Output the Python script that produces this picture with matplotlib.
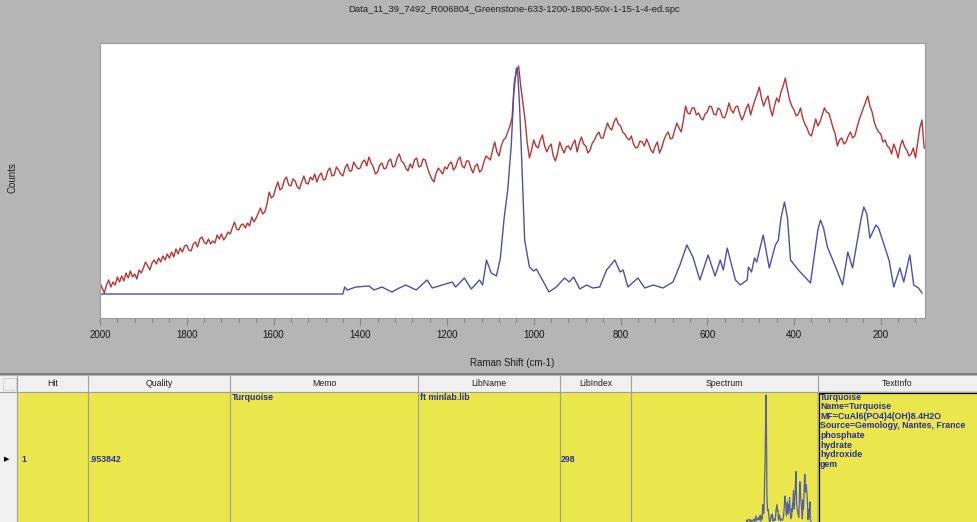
import matplotlib
matplotlib.use('Agg')
import matplotlib.pyplot as plt
from matplotlib.patches import Rectangle
from matplotlib.ticker import MultipleLocator
import numpy as np

plt.rcParams['font.family'] = ['Liberation Sans', 'DejaVu Sans']

# measured spectrum (red), one value every 5 cm-1 from 2000 down to 100
red_shift = np.arange(2000, 99, -5)
red_counts = [
    35, 30, 25, 33, 38, 31, 36, 33, 41, 36,
    42, 37, 45, 40, 47, 41, 44, 39, 48, 45,
    50, 56, 52, 48, 55, 58, 54, 60, 56, 62,
    58, 64, 60, 66, 61, 69, 64, 70, 66, 72,
    73, 68, 67, 74, 76, 71, 79, 81, 76, 74,
    79, 74, 77, 75, 83, 79, 84, 78, 81, 86,
    84, 90, 96, 89, 88, 93, 94, 90, 95, 92,
    101, 96, 100, 105, 110, 104, 106, 114, 126, 120,
    122, 130, 136, 128, 130, 138, 141, 133, 132, 139,
    137, 131, 129, 136, 142, 135, 134, 141, 138, 144,
    136, 142, 145, 138, 139, 147, 150, 142, 143, 151,
    148, 144, 142, 150, 154, 147, 147, 156, 152, 149,
    150, 156, 158, 152, 161, 155, 151, 144, 146, 153,
    155, 149, 150, 157, 159, 151, 152, 160, 164, 157,
    155, 150, 147, 154, 150, 158, 160, 151, 152, 159,
    158, 150, 144, 139, 136, 145, 150, 147, 144, 151,
    149, 154, 156, 148, 151, 158, 161, 152, 150, 157,
    157, 150, 145, 152, 154, 146, 148, 156, 162, 160,
    158, 168, 176, 166, 162, 172, 178, 180, 186, 192,
    200, 235, 247, 252, 232, 215, 198, 175, 160, 168,
    178, 172, 170, 178, 183, 172, 166, 171, 174, 162,
    157, 165, 176, 170, 165, 171, 172, 168, 174, 178,
    166, 175, 181, 174, 172, 165, 168, 175, 178, 183,
    186, 180, 180, 188, 195, 190, 188, 196, 200, 194,
    192, 186, 184, 180, 178, 182, 174, 170, 171, 177,
    176, 172, 179, 174, 168, 165, 172, 176, 165, 170,
    178, 183, 186, 179, 180, 188, 195, 190, 186, 198,
    212, 205, 204, 210, 210, 203, 205, 200, 198, 204,
    206, 212, 211, 204, 203, 210, 208, 201, 200, 206,
    215, 208, 205, 211, 212, 204, 198, 203, 210, 214,
    203, 211, 218, 224, 231, 220, 212, 218, 222, 210,
    202, 212, 220, 216, 226, 232, 240, 228, 218, 212,
    208, 202, 204, 210, 200, 194, 190, 184, 182, 190,
    199, 192, 196, 203, 210, 206, 205, 198, 190, 184,
    172, 178, 180, 174, 176, 182, 186, 180, 182, 190,
    198, 204, 210, 216, 222, 212, 206, 196, 190, 186,
    184, 176, 178, 172, 170, 164, 174, 168, 160, 172,
    178, 171, 168, 162, 164, 170, 160, 175, 190, 198,
    170,
]

# library spectrum (blue), Turquoise
blue_shift = [2000, 1440, 1436, 1430, 1410, 1380, 1368, 1350, 1327, 1310,
              1295, 1271, 1246, 1234, 1211, 1188, 1180, 1160, 1144, 1125,
              1118, 1109, 1098, 1086, 1077, 1068, 1060, 1052, 1046, 1040,
              1037, 1033, 1028, 1021, 1010, 1000, 994, 980, 965, 948,
              929, 918, 908, 894, 878, 864, 848, 832, 813, 801,
              794, 783, 760, 744, 725, 702, 679, 663, 647, 633,
              617, 598, 582, 570, 563, 554, 535, 524, 508, 505,
              498, 491, 486, 471, 457, 443, 436, 430, 422, 415,
              408, 390, 362, 345, 339, 332, 323, 304, 288, 276,
              265, 245, 239, 232, 225, 211, 205, 181, 170, 156,
              147, 133, 124, 113, 105]
blue_counts = [24, 24, 31, 28, 31, 32, 28, 31, 26, 30,
               33, 28, 38, 30, 33, 36, 31, 40, 29, 38,
               33, 58, 45, 42, 60, 101, 128, 172, 225, 250,
               246, 215, 161, 78, 51, 47, 49, 38, 26, 31,
               40, 36, 41, 29, 33, 30, 31, 48, 58, 46,
               48, 31, 40, 30, 33, 30, 36, 53, 73, 61,
               38, 63, 42, 58, 48, 70, 38, 33, 38, 51,
               46, 60, 56, 83, 50, 73, 78, 100, 116, 100,
               58, 48, 35, 88, 98, 90, 71, 51, 33, 66,
               50, 100, 111, 104, 80, 93, 90, 58, 31, 50,
               36, 63, 33, 30, 25]

title = 'Data_11_39_7492_R006804_Greenstone-633-1200-1800-50x-1-15-1-4-ed.spc'
columns = ['', 'Hit', 'Quality', 'Memo', 'LibName', 'LibIndex', 'Spectrum', 'TextInfo']
col_edges = [0, 17, 88, 230, 418, 560, 631, 818, 977]
text_info = ['Turquoise', 'Name=Turquoise', 'MF=CuAl6(PO4)4(OH)8.4H2O',
             'Source=Gemology, Nantes, France', 'phosphate', 'hydrate',
             'hydroxide', 'gem']

W, H = 977, 522
fig = plt.figure(figsize=(W / 100, H / 100), dpi=100)
fig.patch.set_facecolor('#b5b5b5')

# pixel-space layer for the window chrome and table
bg = fig.add_axes([0, 0, 1, 1], zorder=0)
bg.set_xlim(0, W)
bg.set_ylim(H, 0)
bg.axis('off')

bg.text(514, 9, title, ha='center', va='center', fontsize=6.8, color='#202020')
bg.text(12, 178, 'Counts', rotation=90, ha='center', va='center', fontsize=7, color='#202020')
bg.text(512, 363, 'Raman Shift (cm-1)', ha='center', va='center', fontsize=7, color='#202020')

# table
bg.add_patch(Rectangle((0, 373), W, 2, color='#7c7c7c', lw=0))
bg.add_patch(Rectangle((0, 376), W, 16, facecolor='#f0f0f0', edgecolor='none'))
bg.add_patch(Rectangle((17, 392), W - 17, H - 392, facecolor='#e9e74b', edgecolor='none'))
bg.add_patch(Rectangle((0, 392), 17, H - 392, facecolor='#f0f0f0', edgecolor='none'))
bg.plot([0, W], [392, 392], color='#a0a0a0', lw=0.8)
for x in col_edges[1:-1]:
    bg.plot([x, x], [376, H], color='#a0a0a0', lw=0.8)
bg.add_patch(Rectangle((3, 378), 13, 12, facecolor='none', edgecolor='#a0a0a0', lw=0.6, ls=':'))
for name, x0, x1 in zip(columns, col_edges[:-1], col_edges[1:]):
    if name:
        bg.text((x0 + x1) / 2, 384, name, ha='center', va='center', fontsize=6.3, color='#202020')

# selected cell
bg.add_patch(Rectangle((818.5, 393), 160, 140, facecolor='none', edgecolor='black', lw=1.6))

blue_txt = '#2b2d9a'
cell = dict(fontsize=6.3, fontweight='bold', color=blue_txt)
bg.text(7, 459, '\u25b6', ha='center', va='center', fontsize=5, color='black', family='DejaVu Sans')
bg.text(21, 459, '1', ha='left', va='center', **cell)
bg.text(89, 459, '.953842', ha='left', va='center', **cell)
bg.text(232, 397, 'Turquoise', ha='left', va='center', **cell)
bg.text(420, 397, 'ft minlab.lib', ha='left', va='center', **cell)
bg.text(561, 459, '298', ha='left', va='center', **cell)
for i, line in enumerate(text_info):
    bg.text(820, 397 + i * 9.6, line, ha='left', va='center', **cell)

# main plot
ax = fig.add_axes([100 / W, 1 - 318 / H, 825 / W, 275 / H], zorder=2)
ax.set_facecolor('white')
ax.plot(red_shift, red_counts, color='#b83535', lw=1.0)
ax.plot(blue_shift, blue_counts, color='#4b4fae', lw=1.0)
ax.set_xlim(2000, 98)
ax.set_ylim(0, 275)
ax.set_xticks(range(2000, 199, -200))
ax.xaxis.set_minor_locator(MultipleLocator(40))
ax.set_yticks([])
ax.tick_params(axis='x', which='major', direction='out', length=5, width=0.8,
               color='#808080', labelsize=7, labelcolor='#151515', pad=4)
ax.tick_params(axis='x', which='minor', direction='out', length=3, width=0.8, color='#808080')
for s in ax.spines.values():
    s.set_color('#9a9a9a')
    s.set_linewidth(0.8)

# thumbnail in the Spectrum cell
th = fig.add_axes([631 / W, 0, 187 / W, (H - 393) / H], zorder=3)
th.plot(blue_shift, blue_counts, color='#5560a4', lw=0.9)
th.set_xlim(3830, -35)
th.set_ylim(27.5, 253.5)
th.axis('off')

fig.savefig('out.png', dpi=100, facecolor=fig.get_facecolor())
